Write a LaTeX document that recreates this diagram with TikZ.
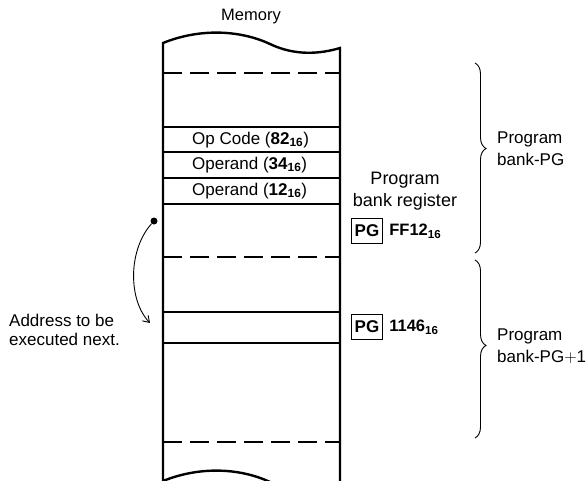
\documentclass[tikz,border=0pt]{standalone}
\usepackage{fontspec}
\setmainfont{Liberation Sans}
\usetikzlibrary{arrows.meta,positioning,decorations.pathreplacing}
\newcommand{\hexval}[1]{\textbf{#1}\textsubscript{\textbf{16}}}

\begin{document}
\begin{tikzpicture}[x=1pt,y=-1pt,
  memrow/.style={anchor=west,inner sep=0pt,font=\fontsize{17}{18}\selectfont},
  memline/.style={line width=1.2pt},
  memdash/.style={line width=1.2pt,dash pattern=on 19pt off 8pt},
  memwall/.style={line width=2.4pt},
  pgbox/.style={draw,line width=1.3pt,minimum width=31pt,minimum height=25pt,
    inner sep=2pt,font=\fontsize{17}{18}\selectfont\bfseries},
  sidetext/.style={align=left,anchor=west,inner sep=0pt,font=\fontsize{17}{22}\selectfont},
  bankbrace/.style={decorate,decoration={brace,amplitude=11pt,aspect=#1},line width=0.9pt}
]
  \clip (0,0) rectangle (588,480);
  % Memory column
  \node[font=\fontsize{16.5}{18}\selectfont] (memtitle) at (251,17) {Memory};
  \draw[memwall] (163,490) -- (163,43) .. controls (200,28) and (240,30) .. (270,44)
    .. controls (295,56) and (320,54) .. (340,48) -- (340,490);
  \draw[memwall] (163,481) .. controls (200,466) and (240,468) .. (270,482)
    .. controls (295,494) and (320,492) .. (340,486);
  \draw[memdash] (163,73) -- (340,73);
  \draw[memdash] (163,257) -- (340,257);
  \draw[memdash] (163,442) -- (340,442);
  \foreach \y in {127,152,178,204,312,343}
    \draw[memline] (163,\y) -- (340,\y);
  % Instruction bytes
  \node[memrow] (opcode) at (192,140) {Op Code (\hexval{82})};
  \node[memrow] (operlo) at (192,165) {Operand (\hexval{34})};
  \node[memrow] (operhi) at (192,191) {Operand (\hexval{12})};
  % Program bank register
  \node[align=center,font=\fontsize{18}{22}\selectfont] (bankreg) at (405,191) {Program\\bank register};
  \node[pgbox] (pgold) at (367,231) {PG};
  \node[right=6pt of pgold,inner sep=0pt,font=\fontsize{16.5}{18}\selectfont] (pgoldval) {\hexval{FF12}};
  \node[pgbox] (pgnew) at (367,327) {PG};
  \node[right=6pt of pgnew,inner sep=0pt,font=\fontsize{16.5}{18}\selectfont] (pgnewval) {\hexval{1146}};
  % Next address
  \node[circle,fill,inner sep=0pt,minimum size=7pt] (pcdot) at (154,221) {};
  \coordinate (nextaddr) at (150,323);
  \draw[line width=0.9pt,-{Straight Barb[length=6pt,width=8pt]}] (pcdot)
    .. controls (128,250) and (128,300) .. (nextaddr);
  \node[sidetext,font=\fontsize{17}{19.5}\selectfont] (addrlabel) at (9,330) {Address to be\\executed next.};
  % Banks
  \draw[bankbrace=0.45] (475,63) -- (475,253);
  \draw[bankbrace=0.48] (475,260) -- (475,438);
  \node[sidetext] (bankpg) at (497,149) {Program\\bank-PG};
  \node[sidetext] (bankpgnext) at (497,346) {Program\\bank-PG$+$1};
\end{tikzpicture}
\end{document}
